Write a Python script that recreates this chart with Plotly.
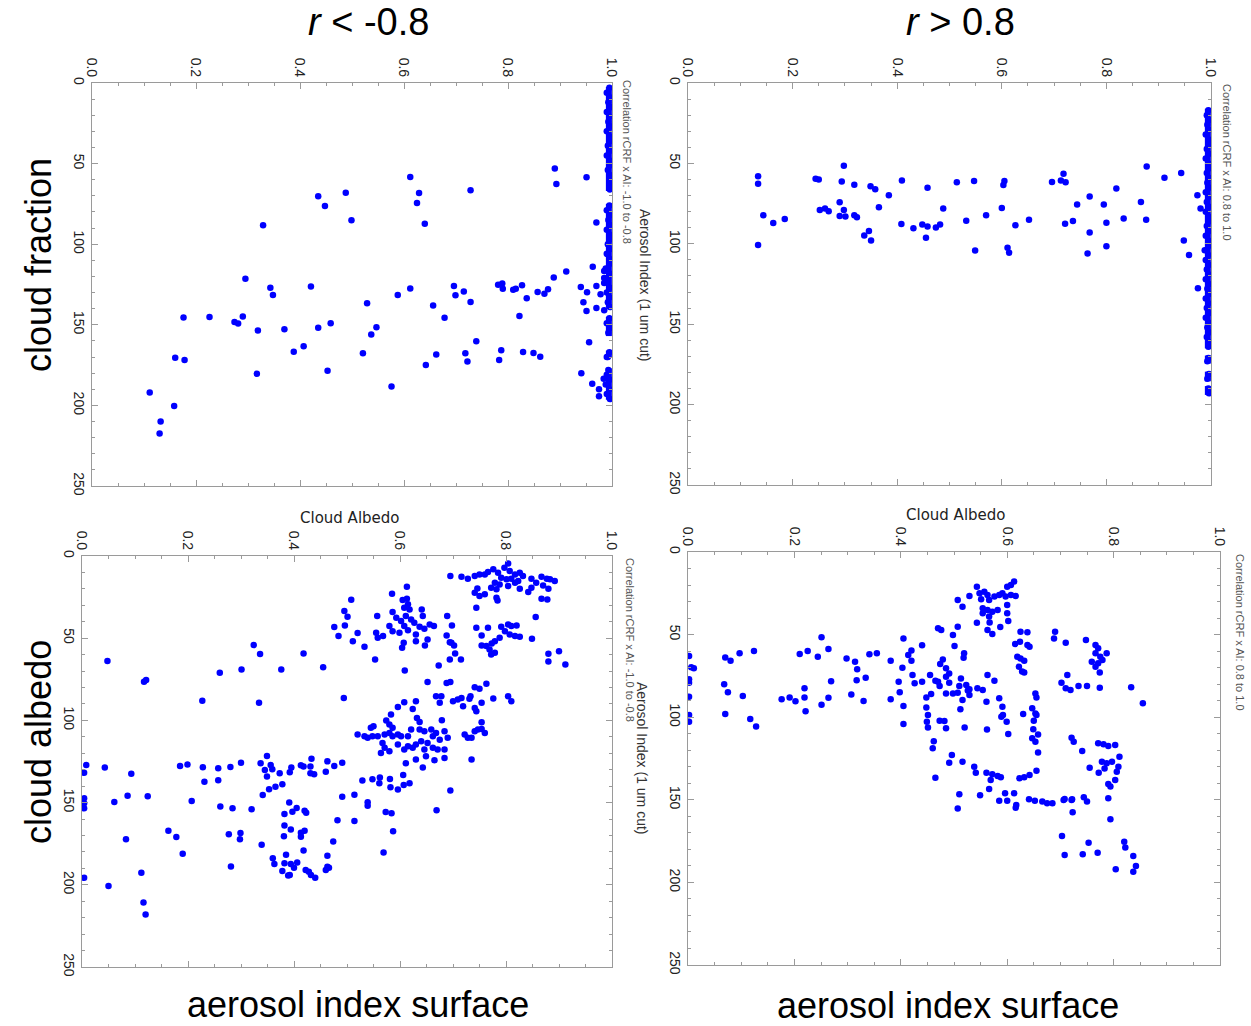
import plotly.graph_objects as go

W, H = 1251, 1026

# ---------------- data (value pairs: cloud fraction/albedo, aerosol index) ----------------
x_tick_vals = [0.0, 0.2, 0.4, 0.6, 0.8, 1.0]
x_tick_text = ["0.0", "0.2", "0.4", "0.6", "0.8", "1.0"]
y_tick_vals = [0, 50, 100, 150, 200, 250]
y_tick_text = ["0", "50", "100", "150", "200", "250"]

col_titles = ["<i>r</i> < -0.8", "<i>r</i> > 0.8"]
row_titles = ["cloud fraction", "cloud albedo"]
bottom_title = "aerosol index surface"
corr_neg = "Correlation rCRF x AI: -1.0 to -0.8"
corr_pos = "Correlation rCRF x AI: 0.8 to 1.0"
ai_title = "Aerosol Index (1 um cut)"
albedo_title = "Cloud Albedo"

# top-left: cloud fraction, r < -0.8
tl_scatter = [(0.890,53),(0.951,58.5),(0.893,62.7),(0.612,58.3),(0.728,66.5),(0.629,68.3),(0.488,68.1),
(0.435,70.2),(0.625,74.4),(0.448,76.3),(0.499,85.2),(0.640,87.3),(0.329,88.3),(0.970,86.5),
(0.912,117),(0.985,116.7),(0.963,114),(0.888,120.6),(0.295,121.5),(0.343,127),(0.421,126.3),(0.612,127.5),
(0.696,126),(0.781,125.2),(0.789,124.4),(0.827,125.4),(0.790,127.7),(0.810,128.3),(0.815,127.7),(0.877,128),
(0.857,129.6),(0.870,130.8),(0.940,126.5),(0.952,129.8),(0.970,126),(0.715,129.4),(0.699,131.7),(0.348,131.5),
(0.588,131.5),(0.836,133.5),(0.728,135.8),(0.529,136.7),(0.656,138),(0.945,136),(0.951,141.5),(0.970,139.6),
(0.822,144.6),(0.678,145.6),(0.290,144.8),(0.226,145.2),(0.176,145.4),(0.274,148.3),(0.281,149.2),(0.459,149),
(0.547,151.5),(0.435,151.9),(0.370,152.7),(0.319,153.5),(0.537,156),(0.739,160.2),(0.956,160.8),(0.407,163.3),
(0.388,166.7),(0.521,167.7),(0.718,167.7),(0.662,168.5),(0.787,165.8),(0.829,166.9),(0.849,167.5),(0.862,169.8),
(0.990,170),(0.783,171.9),(0.722,172.7),(0.160,170.4),(0.178,171.9),(0.642,175),(0.453,178.5),(0.317,180.4),
(0.941,180),(0.984,183.5),(0.962,186.5),(0.576,188.3),(0.111,192),(0.975,194.4),(0.158,200.4),(0.132,210),
(0.130,217.5),(0.985,121),(0.978,131),(0.985,141),(0.975,190)]
tl_band = [(0.995,3),(0.99,6),(0.997,9),(0.993,12),(0.998,15),(0.99,18),(0.995,21),(0.993,24),(0.998,27),
(0.99,30),(0.995,33),(0.997,36),(0.992,39),(0.996,42),(0.99,45),(0.995,48),(0.998,51),(0.992,54),(0.996,57),
(0.995,60),(0.998,63),(0.996,66),(0.995,76),(0.99,79),(0.997,82),(0.993,85),(0.996,88),(0.99,91),(0.995,94),
(0.998,97),(0.992,100),(0.996,103),(0.99,106),(0.995,109),(0.997,112),(0.988,115),(0.995,118),(0.99,121),
(0.985,124),(0.996,127),(0.99,130),(0.995,133),(0.992,136),(0.996,139),(0.995,146),(0.99,149),(0.996,152),
(0.993,155),(0.995,167),(0.992,170),(0.993,178),(0.99,181),(0.996,184),(0.988,187),(0.995,190),(0.99,193),
(0.996,196)]
# stretches of aerosol index where the x = 1 points form a continuous column
tl_band_runs = [(2.5, 67), (75, 139.5), (145, 157), (166, 170.5), (177, 196.5)]

# top-right: cloud fraction, r > 0.8
tr_scatter = [(0.298,51.5),(0.877,51.9),(0.943,56),(0.718,56.5),(0.911,59),(0.134,58),(0.134,62.7),(0.244,59.6),
(0.250,60),(0.294,61.3),(0.409,60.6),(0.514,61.7),(0.547,61),(0.605,61),(0.603,63.5),(0.696,61.5),(0.713,60.6),
(0.722,61.7),(0.318,63.3),(0.349,64.2),(0.358,66),(0.458,65.2),(0.819,65.6),(0.384,69.8),(0.768,70.6),
(0.974,69.8),(0.866,74),(0.290,74.2),(0.744,75.6),(0.795,75.6),(0.365,77.3),(0.600,77.7),(0.980,78),
(0.252,79),(0.262,78),(0.269,79.8),(0.298,79),(0.488,78),(0.144,82.3),(0.290,82.7),(0.301,83),(0.318,82.3),
(0.323,83.5),(0.570,82.3),(0.833,84.2),(0.876,85),(0.652,85),(0.532,85.6),(0.736,85.8),(0.185,84.6),
(0.163,87),(0.408,87.7),(0.721,87.5),(0.800,86.9),(0.448,88),(0.458,89.2),(0.482,88),(0.474,89.8),(0.626,88.5),
(0.431,90.4),(0.346,92),(0.337,94.8),(0.768,93),(0.455,96.3),(0.350,97.9),(0.948,97.9),(0.134,100.8),
(0.800,101.5),(0.611,102.5),(0.614,105.6),(0.549,104.2),(0.764,106),(0.958,107),(0.975,127.7)]
tr_band = [(0.995,17),(0.992,20),(0.997,23),(0.993,26),(0.996,29),(0.99,32),(0.995,35),(0.997,38),(0.992,41),
(0.996,44),(0.99,47),(0.995,50),(0.998,53),(0.992,56),(0.996,59),(0.993,62),(0.997,65),(0.99,68),(0.995,71),
(0.992,74),(0.996,77),(0.99,80),(0.995,83),(0.997,86),(0.992,89),(0.996,92),(0.99,95),(0.995,98),(0.997,101),
(0.988,104),(0.995,107),(0.99,110),(0.996,113),(0.992,116),(0.995,119),(0.99,122),(0.996,125),(0.993,128),
(0.997,131),(0.99,134),(0.995,137),(0.992,140),(0.996,143),(0.99,146),(0.995,149),(0.993,152),(0.997,155),
(0.992,158),(0.996,161),(0.995,164),(0.995,171),(0.993,173),(0.996,181),(0.993,184),(0.995,190),(0.996,193)]
tr_band_runs = [(16, 165), (169.5, 174.5), (179.5, 185.5), (188.5, 194)]

# bottom-left: cloud albedo, r < -0.8
bl_scatter = [
(0.804,4.5),(0.797,7.1),(0.776,8.1),(0.766,9.7),(0.785,10.2),(0.807,9.1),(0.817,11.2),(0.826,10.2),(0.832,12.2),
(0.791,13.2),(0.801,14.2),(0.810,13.8),(0.823,15.2),(0.779,16.2),(0.788,17.3),(0.804,18.3),(0.817,16.2),
(0.760,11.2),(0.750,11.2),(0.741,12.2),(0.728,13.8),(0.716,12.6),(0.695,12.2),(0.772,19.3),(0.782,20.3),
(0.826,19.9),(0.848,13.8),(0.867,12.6),(0.877,13.8),(0.883,14.2),(0.892,15.2),(0.857,16.2),(0.870,17.9),
(0.848,19.3),(0.842,21.9),(0.880,19.9),(0.746,19.7),(0.741,22.3),(0.750,24.4),(0.760,23.3),(0.782,25.4),
(0.784,27),(0.867,26),(0.878,26.4),(0.744,31.5),(0.856,37.1),
(0.613,18.7),(0.585,22.9),(0.508,26.6),(0.605,26.8),(0.613,26),(0.615,29.4),(0.608,31.5),(0.618,32.5),
(0.641,32.5),(0.495,33.5),(0.501,36.9),(0.557,36.5),(0.586,34.1),(0.593,37.6),(0.602,39.6),(0.611,36.5),
(0.621,38.6),(0.627,40.6),(0.608,42.6),(0.643,36.5),(0.637,43),(0.646,44.3),(0.656,41.6),(0.664,42.6),
(0.476,43.2),(0.496,42.2),(0.580,42.6),(0.586,45.7),(0.599,46.7),(0.615,45.1),(0.630,47.7),(0.555,46.7),
(0.558,49.7),(0.568,48.7),(0.484,48.7),(0.520,46.9),(0.511,51.8),(0.533,55.2),(0.607,52.8),(0.630,51.8),
(0.652,50.8),(0.647,54.4),(0.604,55.8),(0.689,36.5),(0.698,42.2),(0.688,48.3),(0.697,52.8),(0.702,54.4),
(0.694,52.4),(0.704,59.3),(0.694,62.9),(0.715,62.9),(0.673,66.6),(0.553,62.9),(0.455,67.6),(0.418,59.3),
(0.609,69.6),
(0.744,43.6),(0.766,43.6),(0.791,43),(0.804,41.6),(0.810,42.6),(0.820,42.2),(0.798,45.7),(0.807,47.7),
(0.817,48.7),(0.826,49.1),(0.788,49.7),(0.754,48.3),(0.779,51.8),(0.773,53.2),(0.754,54.4),(0.763,54.8),
(0.769,56.8),(0.779,58.9),(0.772,59.9),(0.849,50.3),(0.880,59.5),(0.900,57.9),(0.880,64.1),(0.912,66),
(0.652,76.7),(0.688,77.3),(0.695,76.7),(0.741,79.8),(0.750,80.8),(0.763,77.7),(0.494,86.3),(0.668,85.3),
(0.678,85.3),(0.675,89.3),(0.700,88.3),(0.709,87.3),(0.716,86.3),(0.733,85.3),(0.731,86.9),(0.754,89.3),
(0.776,86.7),(0.804,85.3),(0.810,88.3),(0.608,88.9),(0.630,88.3),(0.596,91.8),(0.624,93),(0.719,91.4),
(0.741,92.4),(0.744,94.4),(0.679,99.9),(0.754,101.1),
(0.632,98.5),(0.637,100.9),(0.583,96.4),(0.574,100.1),(0.580,102.5),(0.586,104.5),(0.545,104.5),(0.550,103.5),
(0.520,108.6),(0.533,109.6),(0.539,110.6),(0.548,109.6),(0.558,109.6),(0.571,108.6),(0.580,107.6),(0.586,109.6),
(0.596,108.6),(0.602,109.6),(0.615,109.6),(0.621,105.6),(0.637,105.6),(0.646,106.6),(0.659,105.6),(0.668,107.6),
(0.684,106.6),(0.690,110.6),(0.675,111.7),(0.662,109.6),(0.652,113.7),(0.640,112.7),(0.630,114.7),(0.624,116.7),
(0.615,115.7),(0.608,117.7),(0.596,114.7),(0.567,113.7),(0.571,116.7),(0.580,118.8),(0.564,119.8),(0.646,117.7),
(0.662,116.7),(0.671,117.7),(0.684,117.7),(0.649,121.8),(0.665,124.2),(0.684,122.8),(0.630,123.8),(0.722,108.6),
(0.728,110.6),(0.735,110.6),(0.741,106.6),(0.747,105.6),(0.754,105.2),(0.760,107.6),(0.735,123.8),
(0.048,63.9),(0.117,76.5),(0.121,75.5),(0.260,71),(0.301,69),(0.324,54.2),(0.336,59.6),(0.376,69),(0.227,88),
(0.334,89.2),
(0.008,127.1),(0.043,128.7),(0.093,132.4),(0.004,131.8),(0.185,127.7),(0.199,126.9),(0.228,128.5),(0.257,129.1),
(0.280,128.3),(0.300,125.7),(0.337,126.1),(0.349,121.6),(0.356,127.1),(0.345,130.2),(0.359,129.7),(0.349,134.2),
(0.373,132.2),(0.392,131.6),(0.395,128.7),(0.413,127.3),(0.418,128.1),(0.431,128.1),(0.433,123.3),(0.431,132.2),
(0.438,132.8),(0.463,124.9),(0.460,131.2),(0.476,127.7),(0.491,125.7),(0.231,137.3),(0.257,136.4),(0.341,145.4),
(0.353,141.9),(0.365,140.3),(0.378,138.9),(0.529,136.6),(0.548,135.8),(0.562,134.8),(0.561,138.3),(0.581,135.6),
(0.606,133.2),(0.607,139.3),(0.618,138.3),(0.582,140.7),(0.596,142.1),(0.695,142.7),(0.611,126.1),(0.643,128.7),
(0.004,147.4),(0.004,150.4),(0.004,153.5),(0.061,149.6),(0.086,145.8),(0.124,146.2),(0.207,149),(0.261,152.3),
(0.284,153.5),(0.320,154.1),(0.391,150),(0.405,153.3),(0.382,156.9),(0.397,155.5),(0.420,154.9),(0.423,156.1),
(0.491,146.4),(0.514,145.2),(0.539,149.8),(0.539,151.9),(0.573,155.7),(0.584,156.5),(0.669,154.7),(0.482,160.8),
(0.514,161.2),(0.163,167.1),(0.178,170.9),(0.083,172.3),(0.277,169.3),(0.299,168.5),(0.298,172.3),(0.339,175.6),
(0.382,164),(0.394,166.3),(0.413,168.3),(0.420,167.1),(0.413,170.7),(0.381,170.5),(0.474,173.6),(0.587,167.5),
(0.190,181.1),(0.418,179.2),(0.385,181.7),(0.463,182.3),(0.569,180.4),(0.360,183.9),(0.363,187.3),(0.382,186.9),
(0.394,187.3),(0.406,186.5),(0.400,189.6),(0.378,191.6),(0.392,194.1),(0.389,194.4),(0.422,191),(0.428,192),
(0.432,194.1),(0.440,195.7),(0.460,191),(0.466,189.6),(0.463,189),(0.281,188.8),(0.112,192.6),(0.004,195.7),
(0.050,200.7),(0.116,210.7),(0.120,218)]

# bottom-right: cloud albedo, r > 0.8
br_scatter = [
(0.002,62.9),(0.006,69.8),(0.011,70.4),(0.002,77.1),(0.002,79.1),(0.002,87.6),(0.002,98.7),(0.002,102.7),
(0.068,80.1),(0.075,84.9),(0.070,63.8),(0.080,65.8),(0.097,61.3),(0.124,59.9),(0.103,87.2),(0.070,98.1),
(0.117,101.1),(0.128,105.7),(0.176,89.2),(0.191,88),(0.202,90.4),(0.219,88),(0.219,82.5),(0.221,96.4),
(0.210,61.7),(0.225,59.9),(0.244,63.4),(0.251,51.6),(0.264,58.7),(0.269,78.3),(0.264,88.2),(0.251,92.4),
(0.298,64.4),(0.314,66.4),(0.318,71),(0.317,77.7),(0.307,86.2),(0.330,90.2),(0.334,76.1),(0.341,61.9),
(0.355,61.3),(0.381,65.8),(0.381,89.2),(0.396,78.5),(0.398,84.9),
(0.613,17.9),(0.607,20),(0.600,21),(0.543,21),(0.529,26.6),(0.507,29),(0.516,33.1),(0.548,25),(0.557,24),
(0.563,26),(0.551,28.6),(0.566,29),(0.576,27),(0.585,26),(0.591,25),(0.597,27),(0.607,26),(0.616,26.6),
(0.600,32.1),(0.554,34.1),(0.563,35.1),(0.572,36.1),(0.582,35.1),(0.554,37.1),(0.566,39.1),(0.600,37.1),
(0.567,42.6),(0.543,42.8),(0.602,41.8),(0.563,47.2),(0.572,49.6),(0.587,45.4),
(0.470,46.2),(0.476,47.2),(0.498,50.2),(0.507,45.2),(0.501,56.9),(0.405,52.3),(0.440,56.5),(0.420,59.7),
(0.414,62.4),(0.420,65.8),(0.403,70),(0.519,61.3),(0.518,64),(0.479,65),(0.474,67.8),(0.485,70.4),(0.491,73.5),
(0.485,75.5),(0.455,74.5),(0.422,74.5),(0.426,79.5),(0.440,78.5),(0.465,77.9),(0.473,81.1),(0.470,78.5),
(0.491,79.1),(0.513,76.5),(0.510,81.1),(0.523,80.5),(0.529,83.1),(0.544,82.5),(0.554,83.5),(0.563,74.5),
(0.576,77.9),(0.457,86),(0.448,88),(0.485,85.6),(0.498,85.6),(0.507,85.2),(0.529,86.6),(0.526,83.9),
(0.512,95.2),(0.516,89.6),(0.561,90.6),(0.585,88.6),(0.591,93.6),(0.592,98.7),(0.599,102.7),(0.589,99.7),
(0.405,93.2),(0.405,104.1),(0.448,94.2),(0.451,98.7),(0.449,102.7),(0.451,106.3),(0.473,102.1),(0.482,102.3),
(0.485,106.7),(0.520,106.3),(0.562,107.4),(0.602,110.2),(0.462,114.6),(0.460,118.8),
(0.625,48.2),(0.638,48.6),(0.615,55.7),(0.624,54.3),(0.638,56.3),(0.642,57.3),(0.619,63.4),(0.625,64.4),
(0.632,65.8),(0.622,69.4),(0.628,72.4),(0.632,73),(0.653,85.6),(0.655,88),(0.647,94.6),(0.653,97.7),
(0.655,98.7),(0.630,98.1),(0.650,102.1),(0.649,107.3),(0.658,110.4),(0.647,112.8),(0.653,114.8),(0.658,121.3),
(0.690,48.2),(0.688,52.3),(0.710,54.9),(0.748,53.3),(0.766,56.3),(0.771,58.3),(0.766,61.3),(0.775,63.4),
(0.787,61.3),(0.759,66.4),(0.771,67.4),(0.779,65.4),(0.774,73),(0.766,69.4),(0.713,74.5),(0.702,79.1),
(0.710,82.5),(0.719,83.5),(0.734,81.1),(0.750,81.1),(0.774,82.1),(0.833,81.9),(0.855,91.6),
(0.721,112.4),(0.725,114.8),(0.741,120.5),(0.771,115.8),(0.781,116.4),(0.790,117.4),(0.803,116.8),(0.811,123.9),
(0.778,126.9),(0.787,127.9),(0.797,126.9),(0.783,131),(0.772,133.6),(0.755,130.6),(0.809,130),(0.806,133),
(0.803,138),(0.790,140.5),(0.794,142),(0.790,149.1),(0.794,161.8),(0.744,148.5),(0.750,151.1),(0.722,149.7),
(0.706,150.1),(0.723,157.6),(0.703,171.9),(0.753,176),(0.820,175.4),(0.822,178.8),(0.742,183),(0.770,182),
(0.708,183.4),(0.837,184),(0.842,190.1),(0.837,193.5),(0.804,192.1),
(0.496,122.9),(0.491,127.5),(0.516,126.9),(0.538,130),(0.541,133.6),(0.561,133.6),(0.572,134.6),(0.582,135.6),
(0.588,136.4),(0.569,138),(0.566,143.5),(0.465,136.6),(0.510,146.7),(0.549,147.3),(0.596,146.1),(0.613,146.1),
(0.585,150.5),(0.600,150.5),(0.617,153.2),(0.616,154.8),(0.507,155.2),(0.623,137),(0.632,136.4),(0.642,135),
(0.655,132.4),(0.641,149.7),(0.652,150.5),(0.666,151.1),(0.675,152.1),(0.685,152.1),(0.708,149.5),(0.721,150.1)]

# ---------------- layout ----------------
# panel boxes in pixels: left, right, top, bottom
panels = [
    ("x", "y", tl_scatter + tl_band, tl_band_runs, (92, 612, 83, 486)),
    ("x2", "y2", tr_scatter + tr_band, tr_band_runs, (688, 1211, 83, 485)),
    ("x3", "y3", bl_scatter, [], (82, 612, 556, 967)),
    ("x4", "y4", br_scatter, [], (688, 1220, 552, 965)),
]

BLUE = "#0000FF"
AX_GRAY = "#9a9a9a"
TICK_FONT = dict(family="Liberation Sans, Arial, sans-serif", size=14, color="#222222")

fig = go.Figure()
layout = dict(
    width=W, height=H, margin=dict(l=0, r=0, t=0, b=0),
    paper_bgcolor="white", plot_bgcolor="white", showlegend=False,
)

for xa, ya, pts, runs, (l, r, t, b) in panels:
    # continuous column of points at cloud fraction = 1
    for a0, a1 in runs:
        fig.add_trace(go.Scatter(
            x=[0.994, 0.994], y=[a0, a1], xaxis=xa, yaxis=ya, mode="lines",
            line=dict(color=BLUE, width=6), hoverinfo="skip",
        ))
    xs = [p[0] for p in pts]
    ys = [p[1] for p in pts]
    fig.add_trace(go.Scatter(
        x=xs, y=ys, xaxis=xa, yaxis=ya, mode="markers",
        marker=dict(color=BLUE, size=6.5, line=dict(width=0)),
        hoverinfo="skip",
    ))
    xkey = "xaxis" if xa == "x" else "xaxis" + xa[1:]
    ykey = "yaxis" if ya == "y" else "yaxis" + ya[1:]
    layout[xkey] = dict(
        domain=[l / W, r / W], anchor=ya, side="top", range=[0, 1],
        tickvals=x_tick_vals, ticktext=x_tick_text, tickangle=90,
        ticks="inside", ticklen=6, tickcolor=AX_GRAY, tickwidth=1,
        minor=dict(dtick=0.05, ticks="inside", ticklen=3, tickcolor=AX_GRAY),
        showline=True, linecolor=AX_GRAY, linewidth=1, mirror="allticks",
        showgrid=False, zeroline=False, tickfont=TICK_FONT, automargin=False,
    )
    layout[ykey] = dict(
        domain=[1 - b / H, 1 - t / H], anchor=xa, range=[250, 0],
        tickvals=y_tick_vals, ticktext=y_tick_text, tickangle=90,
        ticks="inside", ticklen=6, tickcolor=AX_GRAY, tickwidth=1,
        minor=dict(dtick=10, ticks="inside", ticklen=3, tickcolor=AX_GRAY),
        showline=True, linecolor=AX_GRAY, linewidth=1, mirror="allticks",
        showgrid=False, zeroline=False, tickfont=TICK_FONT, automargin=False,
    )

BIG = dict(family="Liberation Sans, Arial, sans-serif", size=36, color="black")


def ann(text, px, py, font, angle=0):
    return dict(text=text, x=px / W, y=1 - py / H, xref="paper", yref="paper",
                showarrow=False, font=font, textangle=angle,
                xanchor="center", yanchor="middle")


small_corr = dict(family="Liberation Sans Narrow, Liberation Sans, Arial", size=11, color="#555555")
small_ai = dict(family="Liberation Sans Narrow, Liberation Sans, Arial", size=14, color="#333333")
albedo_font = dict(family="DejaVu Sans, sans-serif", size=15, color="#222222")

layout["annotations"] = [
    ann(col_titles[0], 368, 22, dict(BIG, size=38)),
    ann(col_titles[1], 960, 22, dict(BIG, size=38)),
    ann(row_titles[0], 38, 265, BIG, -90),
    ann(row_titles[1], 38, 742, BIG, -90),
    ann(bottom_title, 358, 1004, BIG),
    ann(bottom_title, 948, 1005, BIG),
    ann(corr_neg, 627, 162, small_corr, 90),
    ann(ai_title, 645, 285, small_ai, 90),
    ann(corr_pos, 1227, 162, small_corr, 90),
    ann(corr_neg, 630, 640, small_corr, 90),
    ann(ai_title, 642, 758, small_ai, 90),
    ann(corr_pos, 1240, 632, small_corr, 90),
    ann(albedo_title, 350, 518, albedo_font),
    ann(albedo_title, 956, 515, albedo_font),
]

fig.update_layout(**layout)
fig.write_html("out.html")
